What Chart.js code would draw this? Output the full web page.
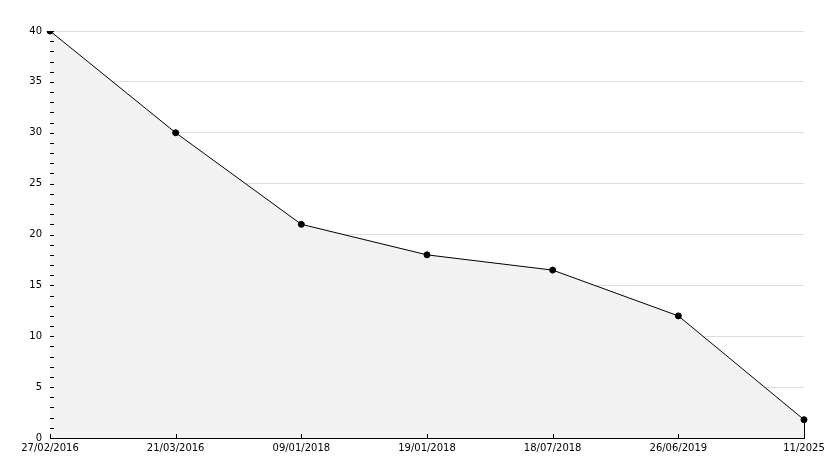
<!DOCTYPE html>
<html>
<head>
  <meta charset="UTF-8">
  <title>Chart</title>
  <script src="https://cdn.jsdelivr.net/npm/chart.js"></script>
  <style>
    html, body { margin: 0; padding: 0; background: #fff; }
    #wrap { position: relative; width: 834px; height: 468px; }
  </style>
</head>
<body>
  <div id="wrap"><canvas id="c"></canvas></div>
  <script>
    // dates on the x axis
    const categories = ["27/02/2016", "21/03/2016", "09/01/2018", "19/01/2018", "18/07/2018", "26/06/2019", "11/2025"];
    // values
    const values = [40, 30, 21, 18, 16.5, 12, 1.8];
    const yMin = 0, yMax = 40, yStep = 5;

    Chart.defaults.font.family = "'DejaVu Sans', sans-serif";
    Chart.defaults.font.size = 10;
    Chart.defaults.color = '#000';

    // small inward ticks on both axes + closing line at the right end of the area
    const innerTicks = {
      id: 'innerTicks',
      afterDatasetsDraw(chart) {
        const ctx = chart.ctx;
        const x = chart.scales.x, y = chart.scales.y;
        const a = chart.chartArea;
        ctx.save();
        ctx.strokeStyle = '#000';
        ctx.lineWidth = 1;
        ctx.beginPath();
        for (let v = yMin; v <= yMax; v++) {
          const py = Math.round(y.getPixelForValue(v)) + 0.5;
          ctx.moveTo(a.left, py);
          ctx.lineTo(a.left + 4, py);
        }
        categories.forEach((c, i) => {
          const px = Math.round(x.getPixelForValue(i)) + 0.5;
          ctx.moveTo(px, a.bottom);
          ctx.lineTo(px, a.bottom - 4);
        });
        const last = values.length - 1;
        const lx = Math.round(x.getPixelForValue(last)) + 0.5;
        ctx.moveTo(lx, y.getPixelForValue(values[last]));
        ctx.lineTo(lx, a.bottom);
        ctx.stroke();
        ctx.restore();
      }
    };

    new Chart(document.getElementById('c'), {
      type: 'line',
      data: {
        labels: categories,
        datasets: [{
          data: values,
          borderColor: '#000',
          borderWidth: 1,
          backgroundColor: '#f2f2f2',
          fill: 'origin',
          tension: 0,
          pointRadius: 3,
          pointBackgroundColor: '#000',
          pointBorderColor: '#000',
          pointBorderWidth: 1
        }]
      },
      options: {
        responsive: true,
        maintainAspectRatio: false,
        animation: false,
        layout: { padding: { left: 0, right: 30, top: 31, bottom: 0 } },
        plugins: { legend: { display: false }, tooltip: { enabled: false } },
        scales: {
          x: {
            offset: false,
            grid: { display: false, drawTicks: false },
            border: { color: '#000', width: 1 },
            ticks: { maxRotation: 0, autoSkip: false, padding: 4 },
            afterFit: s => { s.height = 30; }
          },
          y: {
            min: yMin,
            max: yMax,
            grid: { color: '#dddddd', drawTicks: false },
            border: { color: '#000', width: 1 },
            ticks: { stepSize: yStep, padding: 8 },
            afterFit: s => { s.width = 50; }
          }
        }
      },
      plugins: [innerTicks]
    });
  </script>
</body>
</html>
